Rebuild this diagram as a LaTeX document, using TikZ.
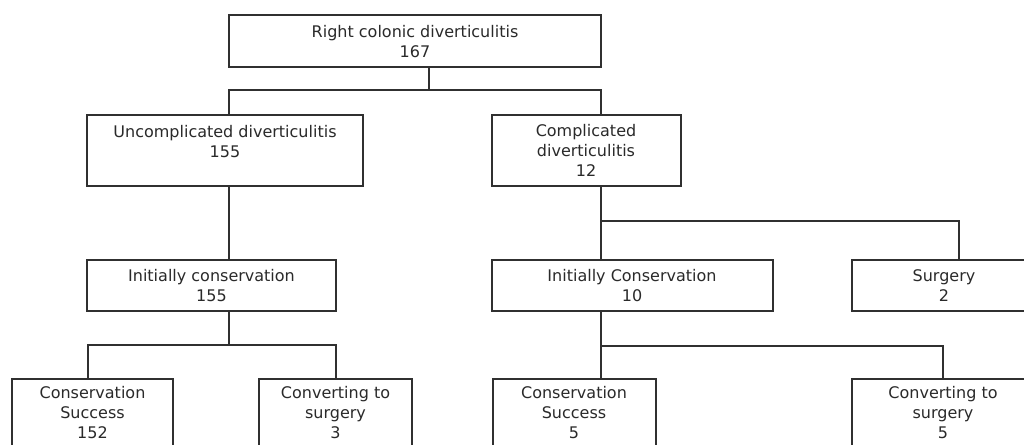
\documentclass[tikz,border=0pt]{standalone}
\usepackage{fontspec}
\setmainfont{DejaVu Sans}
\usetikzlibrary{fit}
\definecolor{linec}{HTML}{303030}
\definecolor{textc}{HTML}{2A2A2A}
\begin{document}
\begin{tikzpicture}[x=0.75pt,y=-0.75pt,
  box/.style={draw=linec, line width=1.6pt, rectangle, inner sep=0pt},
  txt/.style={font=\fontsize{12}{15}\selectfont, text=textc, align=center, inner sep=0pt, anchor=north},
  conn/.style={draw=linec, line width=1.6pt, line join=miter}]
\useasboundingbox (0,0) rectangle (1024,444);
\clip (0,0) rectangle (1024,444);
\fill[white] (0,0) rectangle (1024,444);
% boxes
\node[box, fit={(229,15) (601,67)}] (root) {};
\node[box, fit={(87,115) (363,186)}] (unc) {};
\node[box, fit={(492,115) (681,186)}] (comp) {};
\node[box, fit={(87,260) (336,311)}] (ic1) {};
\node[box, fit={(492,260) (773,311)}] (ic2) {};
\node[box, fit={(852,260) (1036,311)}] (surg) {};
\node[box, fit={(12,379) (173,470)}] (cs1) {};
\node[box, fit={(259,379) (412,470)}] (cv1) {};
\node[box, fit={(493,379) (656,470)}] (cs2) {};
\node[box, fit={(852,379) (1034,470)}] (cv2) {};
% texts
\node[txt] (rootT) at (415,25.5) {Right colonic diverticulitis\\167};
\node[txt] (uncT) at (225,125.5) {Uncomplicated diverticulitis\\155};
\node[txt] (compT) at (586,124.5) {Complicated\\diverticulitis\\12};
\node[txt] (ic1T) at (211.5,269.5) {Initially conservation\\155};
\node[txt] (ic2T) at (632,269.5) {Initially Conservation\\10};
\node[txt] (surgT) at (944,269.5) {Surgery\\2};
\node[txt] (cs1T) at (92.5,386.5) {Conservation\\Success\\152};
\node[txt] (cv1T) at (335.5,386.5) {Converting to\\surgery\\3};
\node[txt] (cs2T) at (574,386.5) {Conservation\\Success\\5};
\node[txt] (cv2T) at (943,386.5) {Converting to\\surgery\\5};
% junctions
\coordinate (j0) at (429,90);
\coordinate (jA) at (229,90);
\coordinate (jB) at (601,90);
\coordinate (jC) at (601,221);
\coordinate (jD) at (959,221);
\coordinate (jE) at (229,345);
\coordinate (jF) at (88,345);
\coordinate (jG) at (336,345);
\coordinate (jH) at (601,346);
\coordinate (jI) at (943,346);
% connectors
\draw[conn] (root.south -| j0) -- (j0);
\draw[conn] (jA |- unc.north) -- (jA) -- (jB) -- (jB |- comp.north);
\draw[conn] (unc.south -| jA) -- (ic1.north -| jA);
\draw[conn] (comp.south -| jC) -- (jC |- ic2.north);
\draw[conn] (jC) -- (jD) -- (jD |- surg.north);
\draw[conn] (ic1.south -| jE) -- (jE);
\draw[conn] (jF |- cs1.north) -- (jF) -- (jG) -- (jG |- cv1.north);
\draw[conn] (ic2.south -| jH) -- (jH |- cs2.north);
\draw[conn] (jH) -- (jI) -- (jI |- cv2.north);
\end{tikzpicture}
\end{document}
